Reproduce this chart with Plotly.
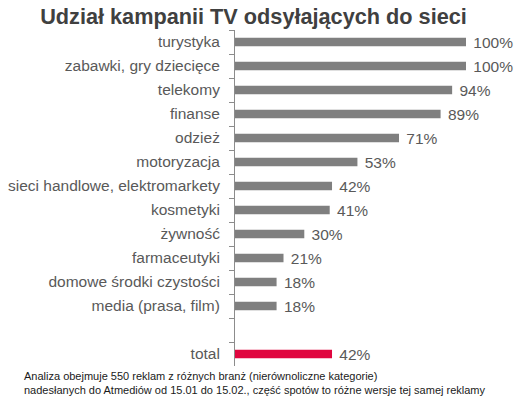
import plotly.graph_objects as go

categories = ["turystyka", "zabawki, gry dziecięce", "telekomy", "finanse", "odzież",
              "motoryzacja", "sieci handlowe, elektromarkety", "kosmetyki", "żywność",
              "farmaceutyki", "domowe środki czystości", "media (prasa, film)", " ", "total"]
values = [100, 100, 94, 89, 71, 53, 42, 41, 30, 21, 18, 18, None, 42]
value_labels = ["100%", "100%", "94%", "89%", "71%", "53%", "42%", "41%", "30%", "21%",
                "18%", "18%", "", "42%"]
bar_colors = ["#7f7f7f"] * 13 + ["#e0063f"]

title = "Udział kampanii TV odsyłających do sieci"
footnote = ("Analiza obejmuje 550 reklam z różnych branż (nierównoliczne kategorie)<br>"
            "nadesłanych do Atmediów od 15.01 do 15.02., część spotów to różne wersje tej samej reklamy")

W, H = 519, 397
L, R, T, B = 235, 53, 30, 31
PW, PH = W - L - R, H - T - B

fig = go.Figure(go.Bar(
    x=values, y=categories, orientation="h",
    marker=dict(color=bar_colors, line=dict(width=0)),
    width=0.36,
    text=[" " + t for t in value_labels], textposition="outside", cliponaxis=False,
    constraintext="none", hoverinfo="skip",
    textfont=dict(family="Liberation Sans, Arial, sans-serif", size=15.5, color="#595959"),
))

fig.update_layout(
    width=W, height=H,
    margin=dict(l=L, r=R, t=T, b=B, autoexpand=False),
    paper_bgcolor="white", plot_bgcolor="white",
    showlegend=False,
    font=dict(family="Liberation Sans, Arial, sans-serif", size=15, color="#595959"),
    title=dict(text="<b>" + title + "</b>", x=253.5 / W, xanchor="center",
               y=1 - 16.5 / H, yanchor="middle", font=dict(size=21.7, color="#404040")),
    xaxis=dict(range=[0, 100], visible=False, fixedrange=True, automargin=False),
    yaxis=dict(type="category", categoryorder="array", categoryarray=categories,
               autorange="reversed", showline=True, linecolor="#8c8c8c", linewidth=1,
               ticks="outside", ticklen=5, tickcolor="#8c8c8c", tickson="boundaries",
               showgrid=False, ticklabelstandoff=11, automargin=False, fixedrange=True,
               tickfont=dict(size=15.5, color="#595959")),
    annotations=[dict(text=footnote, x=(22 - L) / PW, y=(H - B - 368) / PH,
                      xref="paper", yref="paper",
                      showarrow=False, align="left", xanchor="left", yanchor="top",
                      font=dict(family="Liberation Sans Narrow, Liberation Sans, Arial, sans-serif",
                                size=11, color="#1a1a1a"))],
)
fig.write_html("out.html", config={"displayModeBar": False},
               post_script="document.body.style.margin='0';document.body.style.overflow='hidden';")
